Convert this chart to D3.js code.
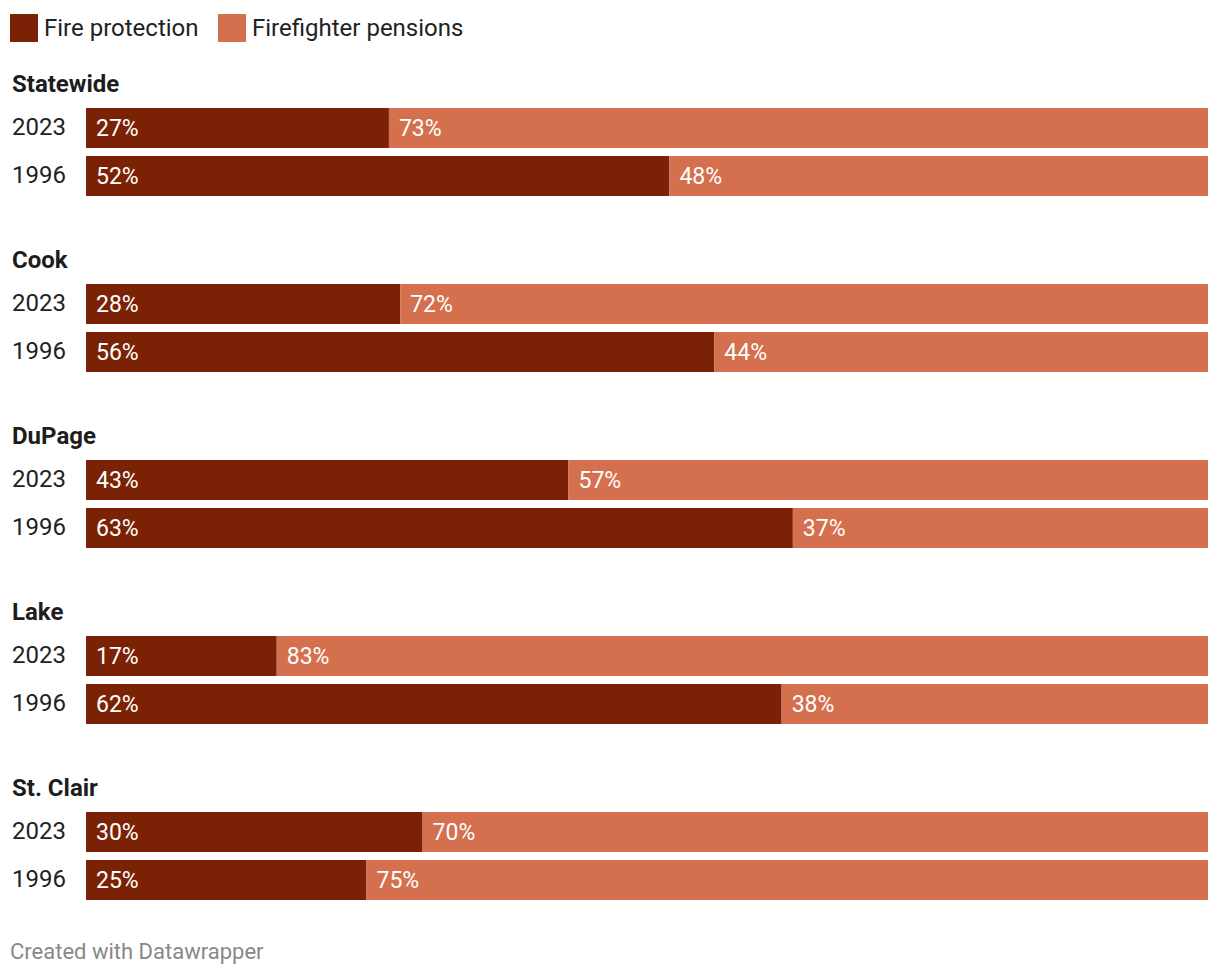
<!DOCTYPE html>
<html>
<head>
<meta charset="utf-8">
<script src="https://cdn.jsdelivr.net/npm/d3@7"></script>
<style>
  body { margin: 0; background: #fff; }
  text { font-family: Roboto, sans-serif; }
</style>
</head>
<body>
<script>
// data
var regions = ["Statewide", "Cook", "DuPage", "Lake", "St. Clair"];
var years = ["2023", "1996"];
var fireProtection = [[27, 52], [28, 56], [43, 63], [17, 62], [30, 25]];
var series = ["Fire protection", "Firefighter pensions"];
var colors = ["#7b2206", "#d4704e"];

var W = 1220, H = 976;
var svg = d3.select("body").append("svg").attr("width", W).attr("height", H);

// x scale for the percent stacks
var x = d3.scaleLinear().domain([0, 100]).range([86, 1208]);
// each region block is 176px tall, starting at y 60
var yGroup = d3.scaleBand().domain(regions).range([60, 60 + 176 * regions.length]);
// two bars of 40px with an 8px gap
var yBar = d3.scaleBand().domain(years).range([48, 136]).paddingInner(1 / 6);

// legend
var legend = svg.append("g");
var lx = [10, 218];
series.forEach(function(s, i) {
    legend.append("rect").attr("x", lx[i]).attr("y", 14).attr("width", 28).attr("height", 28).attr("fill", colors[i]);
    legend.append("text").attr("x", lx[i] + 34).attr("y", 36).attr("font-size", 24).attr("fill", "#222").text(s);
});

regions.forEach(function(r, gi) {
    var g = svg.append("g").attr("transform", "translate(0," + yGroup(r) + ")");
    g.append("text").attr("x", 12).attr("y", 32).attr("font-size", 24).attr("font-weight", 700)
        .attr("fill", "#1d1d1d").text(r);

    years.forEach(function(yr, yi) {
        var v = fireProtection[gi][yi];
        var segs = [[0, v], [v, 100]];
        var by = yBar(yr);
        var bh = yBar.bandwidth();
        g.append("text").attr("x", 12).attr("y", by + bh / 2 + 7).attr("font-size", 24)
            .attr("fill", "#222").text(yr);
        segs.forEach(function(s, si) {
            g.append("rect").attr("x", x(s[0])).attr("y", by)
                .attr("width", x(s[1]) - x(s[0])).attr("height", bh).attr("fill", colors[si]);
            g.append("text").attr("x", x(s[0]) + 10).attr("y", by + bh / 2 + 8)
                .attr("font-size", 23).attr("fill", "#fff").text((s[1] - s[0]) + "%");
        });
    });
});

svg.append("text").attr("x", 10).attr("y", 959).attr("font-size", 22).attr("fill", "#888")
    .text("Created with Datawrapper");
</script>
</body>
</html>
